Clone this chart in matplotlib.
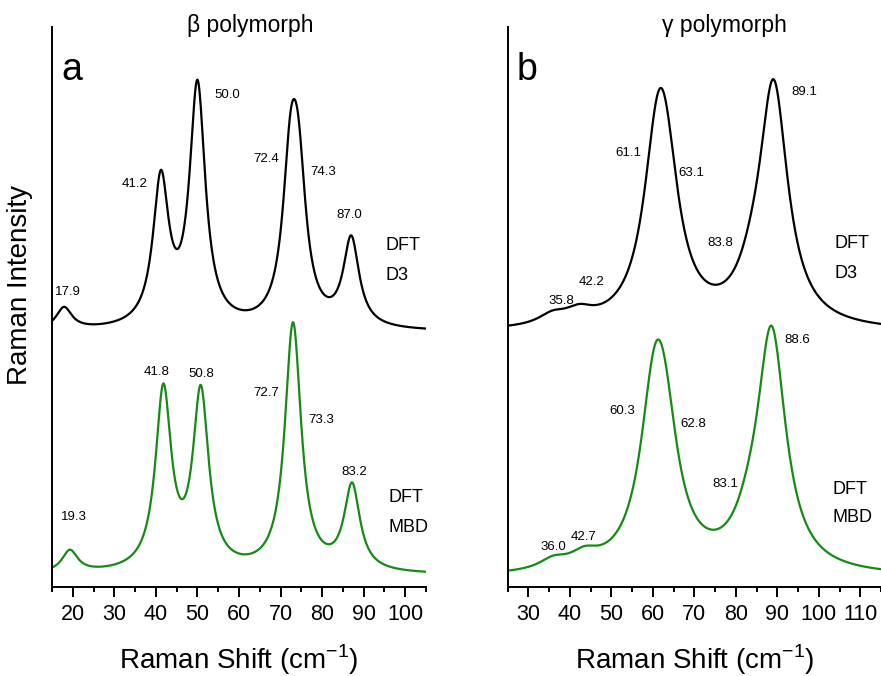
import numpy as np
import matplotlib
matplotlib.use("Agg")
import matplotlib.pyplot as plt

plt.rcParams["font.family"] = ["Liberation Sans", "DejaVu Sans"]

# mode positions (cm-1), Lorentzian amplitudes, baseline and half width
beta_d3_pos = [17.9, 41.2, 50.0, 72.4, 74.3, 87.0]
beta_d3_amp = [22, 145, 240, 140, 126, 88]
beta_d3_base = 255
beta_mbd_pos = [19.3, 41.8, 50.8, 72.7, 73.3, 87.2]
beta_mbd_amp = [22, 179, 176, 126, 126, 85]
beta_mbd_base = 12
beta_hwhm = 2.3

gamma_d3_pos = [35.8, 42.2, 61.1, 63.1, 83.8, 89.1]
gamma_d3_amp = [10, 12, 145, 105, 20, 239]
gamma_d3_base = 255
gamma_mbd_pos = [36.0, 43.5, 60.3, 62.8, 83.1, 88.6]
gamma_mbd_amp = [10, 13, 145, 105, 20, 238]
gamma_mbd_base = 10
gamma_hwhm = 4.2

# peak labels: text, x, y
beta_d3_labels = [("17.9", 18.9, 295), ("41.2", 35.0, 403), ("50.0", 57.1, 492),
                  ("72.4", 66.5, 428), ("74.3", 80.2, 415), ("87.0", 86.6, 372)]
beta_mbd_labels = [("19.3", 20.3, 70), ("41.8", 40.1, 215), ("50.8", 50.9, 213),
                   ("72.7", 66.5, 194), ("73.3", 79.7, 167), ("83.2", 87.8, 115)]
gamma_d3_labels = [("35.8", 38.0, 286), ("42.2", 45.1, 305), ("61.1", 54.2, 434),
                   ("63.1", 69.3, 414), ("83.8", 76.3, 344), ("89.1", 96.5, 495)]
gamma_mbd_labels = [("36.0", 36.0, 40), ("42.7", 43.2, 50), ("60.3", 52.7, 176),
                    ("62.8", 69.7, 163), ("83.1", 77.4, 103), ("88.6", 94.9, 247)]


def spectrum(x, pos, amp, base, g):
    y = np.full_like(x, base, dtype=float)
    for p, a in zip(pos, amp):
        y += a * g**2 / ((x - p)**2 + g**2)
    return y


green = "#158a15"
fig = plt.figure(figsize=(8.81, 6.76), dpi=100)
ax_a = fig.add_axes([52 / 881, 89 / 676, 374 / 881, 560 / 676])
ax_b = fig.add_axes([507.7 / 881, 89 / 676, 373.3 / 881, 560 / 676])

panels = [
    (ax_a, (15, 105), beta_hwhm, "a", "\u03b2 polymorph", 0.529,
     (beta_d3_pos, beta_d3_amp, beta_d3_base, beta_d3_labels),
     (beta_mbd_pos, beta_mbd_amp, beta_mbd_base, beta_mbd_labels),
     (95.2, 341, 312), (95.9, 89, 59)),
    (ax_b, (25, 115), gamma_hwhm, "b", "\u03b3 polymorph", 0.581,
     (gamma_d3_pos, gamma_d3_amp, gamma_d3_base, gamma_d3_labels),
     (gamma_mbd_pos, gamma_mbd_amp, gamma_mbd_base, gamma_mbd_labels),
     (103.9, 344, 314), (103.3, 98, 69)),
]

for ax, xlim, g, tag, title, title_x, d3, mbd, d3_txt, mbd_txt in panels:
    x = np.linspace(xlim[0], xlim[1], 1500)
    ax.plot(x, spectrum(x, d3[0], d3[1], d3[2], g), color="black", lw=1.6)
    ax.plot(x, spectrum(x, mbd[0], mbd[1], mbd[2], g), color=green, lw=1.6)
    for txt, lx, ly in d3[3] + mbd[3]:
        ax.text(lx, ly, txt, fontsize=9.5, ha="center", va="center")
    ax.text(d3_txt[0], d3_txt[1], "DFT", fontsize=13, va="center")
    ax.text(d3_txt[0], d3_txt[2], "D3", fontsize=13, va="center")
    ax.text(mbd_txt[0], mbd_txt[1], "DFT", fontsize=13, va="center")
    ax.text(mbd_txt[0], mbd_txt[2], "MBD", fontsize=13, va="center")
    ax.text(0.025, 0.905, tag, transform=ax.transAxes, fontsize=27, va="baseline")
    ax.text(title_x, 0.991, title, transform=ax.transAxes, fontsize=16.5,
            ha="center", va="baseline", clip_on=False)

    ax.set_xlim(*xlim)
    ax.set_ylim(0, 560)
    ax.set_xticks(np.arange(xlim[0] + 5, xlim[1] + 1, 10))
    ax.set_xticks(np.arange(xlim[0], xlim[1] + 1, 10), minor=True)
    ax.set_yticks([])
    for s in ["top", "right"]:
        ax.spines[s].set_visible(False)
    for s in ["left", "bottom"]:
        ax.spines[s].set_linewidth(1.4)
    ax.tick_params(axis="x", which="major", direction="out", length=7, width=1.4,
                   labelsize=15.5, pad=5)
    ax.tick_params(axis="x", which="minor", direction="out", length=3.5, width=1.4)
    ax.set_xlabel("Raman Shift (cm$^{\\mathregular{-1}}$)", fontsize=20, labelpad=13)

ax_a.set_ylabel("Raman Intensity", fontsize=20)
ax_a.yaxis.set_label_coords(-0.051, 0.539)

fig.savefig("out.png", dpi=100)
